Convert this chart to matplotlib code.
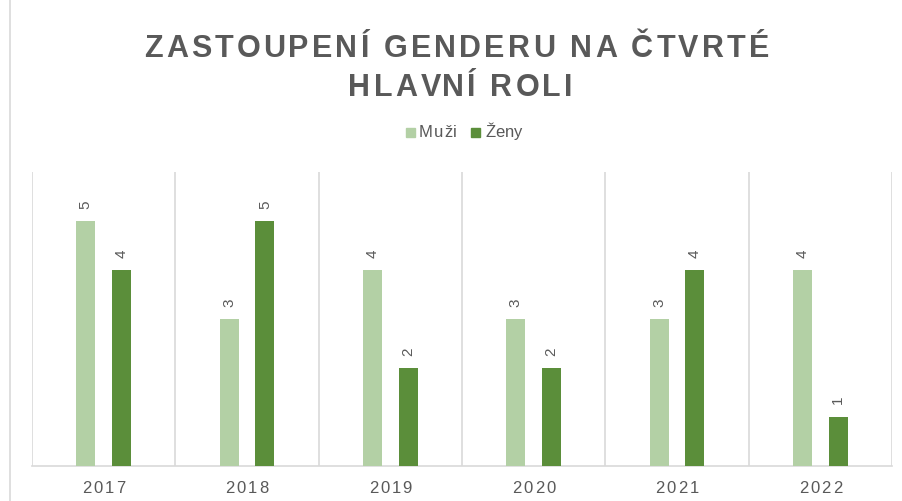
import matplotlib
matplotlib.use("Agg")
import matplotlib.pyplot as plt
from matplotlib.lines import Line2D
from matplotlib.patches import Rectangle

years = ["2017", "2018", "2019", "2020", "2021", "2022"]
muzi = [5, 3, 4, 3, 3, 4]
zeny = [4, 5, 2, 2, 4, 1]
series_names = ["Muži", "Ženy"]
title_lines = ["ZASTOUPENÍ GENDERU NA ČTVRTÉ", "HLAVNÍ ROLI"]

c_light = "#B3D0A5"
c_dark = "#5B8E3A"
gray = "#595959"
grid = "#D9D9D9"

W, H = 903, 501
fig = plt.figure(figsize=(W / 100, H / 100), dpi=100)
plt.rcParams["font.family"] = ["Liberation Sans", "DejaVu Sans"]

ax = fig.add_axes([32 / W, (H - 466) / H, (892 - 32) / W, (466 - 172) / H])
x = list(range(len(years)))
bw = 0.133
off = 0.125
b1 = ax.bar([i - off for i in x], muzi, width=bw, color=c_light, zorder=3)
b2 = ax.bar([i + off for i in x], zeny, width=bw, color=c_dark, zorder=3)
ax.set_xlim(-0.5, len(years) - 0.5)
ax.set_ylim(0, 6)
for i in range(len(years) + 1):
    ax.axvline(i - 0.5, color=grid, lw=1.2, zorder=1)
for s in ["top", "right", "left"]:
    ax.spines[s].set_visible(False)
ax.spines["bottom"].set_color(grid)
ax.spines["bottom"].set_linewidth(1.2)
ax.set_yticks([])
ax.set_xticks(x)
ax.set_xticklabels([])
ax.tick_params(axis="x", length=0)

for bars, vals in ((b1, muzi), (b2, zeny)):
    for r, v in zip(bars, vals):
        ax.annotate(str(v), (r.get_x() + r.get_width() / 2, v), xytext=(0, 9),
                    textcoords="offset points", rotation=90, ha="center", va="bottom",
                    fontsize=11, color=gray)

renderer = fig.canvas.get_renderer()


def text_w(s, **kw):
    t = fig.text(0, 0, s + "|", **kw)
    w1 = t.get_window_extent(renderer).width
    t.set_text("|")
    w0 = t.get_window_extent(renderer).width
    t.remove()
    return w1 - w0


def spaced(s, xc, y, spacing, **kw):
    n = len(s)
    total = text_w(s, **kw) + spacing * (n - 1)
    x0 = xc - total / 2
    for i, ch in enumerate(s):
        if ch == " ":
            continue
        px = x0 + text_w(s[:i], **kw) + spacing * i
        fig.text(px / W, 1 - y / H, ch, ha="left", va="baseline", **kw)


tkw = dict(fontsize=22, fontweight="bold", color=gray)
spaced(title_lines[0], 456.5, 57, 3.2, **tkw)
spaced(title_lines[1], 460.5, 96, 3.2, **tkw)

lkw = dict(fontsize=12, color=gray)
spaced(series_names[0], 438, 137, 1.0, **lkw)
spaced(series_names[1], 504, 137, 0.0, **lkw)
fig.add_artist(Rectangle((406 / W, 1 - 137 / H), 9 / W, 9 / H, color=c_light, transform=fig.transFigure))
fig.add_artist(Rectangle((471 / W, 1 - 137 / H), 9 / W, 9 / H, color=c_dark, transform=fig.transFigure))

xkw = dict(fontsize=12, color=gray)
for i, yr in enumerate(years):
    xc = 32 + (i + 0.5) * (892 - 32) / len(years)
    spaced(yr, xc, 493, 2.0, **xkw)

fig.add_artist(Line2D([10 / W, 10 / W], [0, 1], color=grid, lw=1.2, transform=fig.transFigure))

fig.savefig("out.png", dpi=100)
